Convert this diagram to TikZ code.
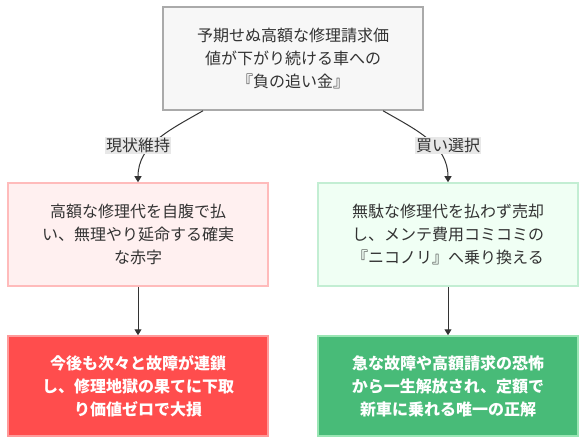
\documentclass[tikz,border=0pt]{standalone}
\usepackage{fontspec}
\setmainfont{Noto Sans CJK JP}
\usepackage{xcolor}
\usepackage{tikz}
\usetikzlibrary{arrows.meta,positioning,calc}
\definecolor{cInk}{HTML}{333333}
\definecolor{cGrayF}{HTML}{F7F7F7}
\definecolor{cGrayD}{HTML}{AAAAAA}
\definecolor{cLabel}{HTML}{E8E8E8}
\definecolor{cPinkF}{HTML}{FFF0F0}
\definecolor{cPinkD}{HTML}{FFBBBB}
\definecolor{cMintF}{HTML}{F0FFF4}
\definecolor{cMintD}{HTML}{C3EED3}
\definecolor{cRed}{HTML}{FF4D4D}
\definecolor{cRedD}{HTML}{FF9A9A}
\definecolor{cGreen}{HTML}{48BB78}
\definecolor{cGreenD}{HTML}{9AE6B4}
\tikzset{
  fbox/.style 2 args={draw=#1,fill=#2,line width=1.5pt,align=center,text=cInk,
    minimum width=260pt,inner sep=0pt,font=\fontsize{16pt}{23pt}\selectfont},
  hbox/.style 2 args={fbox={#1}{#2},text=white,font=\fontsize{16pt}{23pt}\selectfont\bfseries},
  arr/.style={-{Triangle[length=6pt,width=7pt]},line width=1pt,color=cInk},
  lbl/.style={fill=cLabel,text=cInk,inner sep=1pt,font=\fontsize{16pt}{19pt}\selectfont},
}
\begin{document}
\begin{tikzpicture}[x=1pt,y=-1pt]
  \useasboundingbox (0,0) rectangle (586,446);
  \node[fbox={cGrayD}{cGrayF},minimum height=103pt] (risk) at (293,58.5)
    {予期せぬ高額な修理請求価\\値が下がり続ける車への\\『負の追い金』};
  \node[fbox={cPinkD}{cPinkF},minimum height=103pt] (keep) at (138,234.5)
    {高額な修理代を自腹で払\\い、無理やり延命する確実\\な赤字};
  \node[fbox={cMintD}{cMintF},minimum height=103pt] (swap) at (448,234.5)
    {無駄な修理代を払わず売却\\し、メンテ費用コミコミの\\『ニコノリ』へ乗り換える};
  \node[hbox={cRedD}{cRed},minimum height=100pt] (loss) at (138,386)
    {今後も次々と故障が連鎖\\し、修理地獄の果てに下取\\り価値ゼロで大損};
  \node[hbox={cGreenD}{cGreen},minimum height=100pt] (gain) at (448,386)
    {急な故障や高額請求の恐怖\\から一生解放され、定額で\\新車に乗れる唯一の正解};
  % branches
  \draw[arr] ([xshift=-90pt]risk.south) to[out=-150,in=90] (keep.north);
  \draw[arr] ([xshift=90pt]risk.south) to[out=-30,in=90] (swap.north);
  \node[lbl] (lkeep) at (138,145.5) {現状維持};
  \node[lbl] (lswap) at (448,145.5) {買い選択};
  \draw[arr] (keep) -- (loss);
  \draw[arr] (swap) -- (gain);
\end{tikzpicture}
\end{document}
